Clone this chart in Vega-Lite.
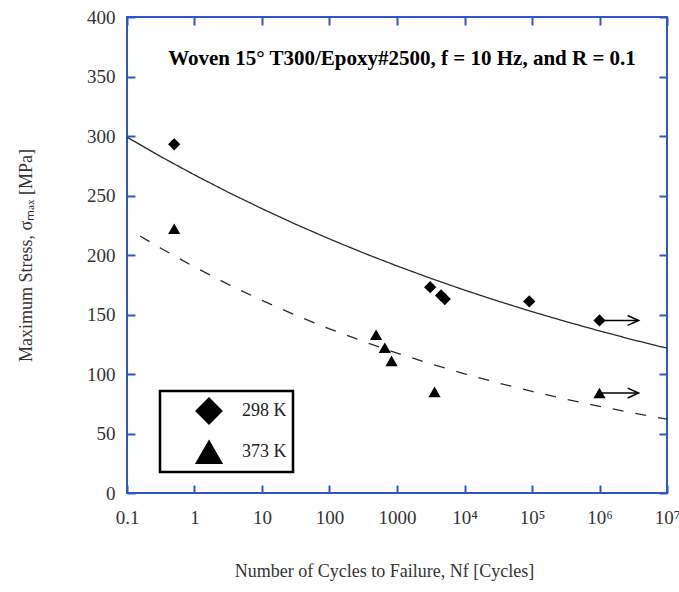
{
  "$schema": "https://vega.github.io/schema/vega-lite/v6.json",
  "width": 540,
  "height": 476,
  "autosize": {"type": "none"},
  "padding": {"left": 127, "top": 17, "right": 12, "bottom": 99},
  "background": "white",
  "config": {
    "view": {"stroke": "#2e56c6", "strokeWidth": 2},
    "font": "Liberation Serif",
    "legend": {"strokeWidth": 2.5}
  },
  "title": {
    "text": "Woven 15° T300/Epoxy#2500, f = 10 Hz, and R = 0.1",
    "font": "Liberation Serif",
    "fontSize": 21,
    "fontWeight": "bold",
    "color": "#000000",
    "anchor": "middle",
    "orient": "top",
    "offset": -78,
    "baseline": "alphabetic",
    "dx": 5
  },
  "datasets": {
    "points": [
      {"series": "298 K", "N": 0.5, "stress": 293},
      {"series": "298 K", "N": 3100, "stress": 173},
      {"series": "298 K", "N": 4500, "stress": 166},
      {"series": "298 K", "N": 5100, "stress": 163},
      {"series": "298 K", "N": 91000, "stress": 161},
      {"series": "298 K", "N": 1000000, "stress": 145},
      {"series": "373 K", "N": 0.5, "stress": 222},
      {"series": "373 K", "N": 490, "stress": 133},
      {"series": "373 K", "N": 660, "stress": 122},
      {"series": "373 K", "N": 830, "stress": 111},
      {"series": "373 K", "N": 3600, "stress": 85},
      {"series": "373 K", "N": 1000000, "stress": 84}
    ],
    "arrows": [
      {"series": "298 K", "from": 1000000, "to": 3800000, "stress": 145},
      {"series": "373 K", "from": 1000000, "to": 3800000, "stress": 84}
    ],
    "curves": [
      {"curve": "298 K fit", "N": 0.1, "stress": 299},
      {"curve": "298 K fit", "N": 0.316, "stress": 282.7},
      {"curve": "298 K fit", "N": 1, "stress": 267.3},
      {"curve": "298 K fit", "N": 3.16, "stress": 252.7},
      {"curve": "298 K fit", "N": 10, "stress": 238.9},
      {"curve": "298 K fit", "N": 31.6, "stress": 225.8},
      {"curve": "298 K fit", "N": 100, "stress": 213.5},
      {"curve": "298 K fit", "N": 316, "stress": 201.8},
      {"curve": "298 K fit", "N": 1000, "stress": 190.8},
      {"curve": "298 K fit", "N": 3160, "stress": 180.4},
      {"curve": "298 K fit", "N": 10000, "stress": 170.5},
      {"curve": "298 K fit", "N": 31600, "stress": 161.2},
      {"curve": "298 K fit", "N": 100000, "stress": 152.4},
      {"curve": "298 K fit", "N": 316000, "stress": 144.1},
      {"curve": "298 K fit", "N": 1000000, "stress": 136.2},
      {"curve": "298 K fit", "N": 3160000, "stress": 128.7},
      {"curve": "298 K fit", "N": 10000000, "stress": 121.7},
      {"curve": "373 K fit", "N": 0.156, "stress": 216},
      {"curve": "373 K fit", "N": 0.316, "stress": 205.7},
      {"curve": "373 K fit", "N": 1, "stress": 189.9},
      {"curve": "373 K fit", "N": 3.16, "stress": 175.3},
      {"curve": "373 K fit", "N": 10, "stress": 161.8},
      {"curve": "373 K fit", "N": 31.6, "stress": 149.4},
      {"curve": "373 K fit", "N": 100, "stress": 137.9},
      {"curve": "373 K fit", "N": 316, "stress": 127.4},
      {"curve": "373 K fit", "N": 1000, "stress": 117.6},
      {"curve": "373 K fit", "N": 3160, "stress": 108.5},
      {"curve": "373 K fit", "N": 10000, "stress": 100.2},
      {"curve": "373 K fit", "N": 31600, "stress": 92.5},
      {"curve": "373 K fit", "N": 100000, "stress": 85.4},
      {"curve": "373 K fit", "N": 316000, "stress": 78.8},
      {"curve": "373 K fit", "N": 1000000, "stress": 72.8},
      {"curve": "373 K fit", "N": 3160000, "stress": 67.2},
      {"curve": "373 K fit", "N": 10000000, "stress": 62.0}
    ]
  },
  "layer": [
    {
      "data": {"name": "curves"},
      "mark": {"type": "line", "color": "#2a2a2a", "strokeWidth": 1.3},
      "encoding": {
        "x": {
          "field": "N",
          "type": "quantitative",
          "scale": {"type": "log", "domain": [0.1, 10000000]},
          "axis": {
            "orient": "bottom",
            "values": [0.1, 1, 10, 100, 1000, 10000, 100000, 1000000, 10000000],
            "labelExpr": "datum.value < 0.5 ? '0.1' : datum.value < 5 ? '1' : datum.value < 50 ? '10' : datum.value < 500 ? '100' : datum.value < 5000 ? '1000' : datum.value < 50000 ? '10⁴' : datum.value < 500000 ? '10⁵' : datum.value < 5000000 ? '10⁶' : '10⁷'",
            "labelFlush": false,
            "labelOverlap": false,
            "labelBound": false,
            "domain": false,
            "grid": false,
            "ticks": true,
            "tickSize": -8,
            "tickWidth": 2,
            "tickColor": "#2e56c6",
            "labelFont": "Liberation Serif",
            "labelFontSize": 19,
            "labelColor": "#333333",
            "labelPadding": 23,
            "title": "Number of Cycles to Failure, Nf [Cycles]",
            "titleFont": "Liberation Serif",
            "titleFontSize": 18,
            "titleFontWeight": "normal",
            "titleColor": "#333333",
            "titlePadding": 35,
            "titleX": 257
          }
        },
        "y": {
          "field": "stress",
          "type": "quantitative",
          "scale": {"domain": [0, 400]},
          "axis": {
            "orient": "left",
            "values": [0, 50, 100, 150, 200, 250, 300, 350, 400],
            "domain": false,
            "grid": false,
            "tickSize": -8,
            "tickWidth": 2,
            "tickColor": "#2e56c6",
            "labelFont": "Liberation Serif",
            "labelFontSize": 19,
            "labelColor": "#333333",
            "labelPadding": 20,
            "labelFlush": false,
            "labelBound": false,
            "title": "Maximum Stress, σₘₐₓ [MPa]",
            "titleFont": "Liberation Serif",
            "titleFontSize": 18,
            "titleFontWeight": "normal",
            "titleColor": "#333333",
            "titlePadding": 51
          }
        },
        "strokeDash": {
          "field": "curve",
          "type": "nominal",
          "scale": {"domain": ["298 K fit", "373 K fit"], "range": [[1, 0], [11, 12]]},
          "legend": null
        }
      }
    },
    {
      "data": {"name": "points"},
      "mark": {"type": "point", "filled": true, "size": 150, "opacity": 1},
      "encoding": {
        "x": {
          "field": "N",
          "type": "quantitative",
          "axis": {
            "orient": "top",
            "values": [0.1, 1, 10, 100, 1000, 10000, 100000, 1000000, 10000000],
            "labels": false,
            "domain": false,
            "grid": false,
            "tickSize": -8,
            "tickWidth": 2,
            "tickColor": "#2e56c6",
            "title": null
          }
        },
        "y": {
          "field": "stress",
          "type": "quantitative",
          "axis": {
            "orient": "right",
            "values": [0, 50, 100, 150, 200, 250, 300, 350, 400],
            "labels": false,
            "domain": false,
            "grid": false,
            "tickSize": -8,
            "tickWidth": 2,
            "tickColor": "#2e56c6",
            "title": null
          }
        },
        "shape": {
          "field": "series",
          "type": "nominal",
          "scale": {"domain": ["298 K", "373 K"], "range": ["diamond", "triangle-up"]},
          "legend": null
        },
        "color": {
          "field": "series",
          "type": "nominal",
          "scale": {"domain": ["298 K", "373 K"], "range": ["#000000", "#000000"]},
          "legend": {
            "orient": "none",
            "legendX": 33,
            "legendY": 374,
            "title": null,
            "padding": 6,
            "rowPadding": 11,
            "strokeColor": "black",
            "fillColor": "white",
            "symbolSize": 676,
            "symbolOffset": 29,
            "labelOffset": 19,
            "labelFont": "Liberation Serif",
            "labelFontSize": 18,
            "labelColor": "#222222",
            "symbolStrokeWidth": 1.3,
            "symbolStrokeColor": "black",
            "symbolFillColor": "black",
            "encode": {
              "symbols": {
                "shape": {
                  "condition": {"test": "datum.value === '298 K'", "value": "M-1.96,0H-0.4M0,-0.42L0.42,0L0,0.42L-0.42,0ZM0.4,0H1.96"},
                  "value": "M-1.87,0H-1.02M-0.45,0.36L0,-0.36L0.45,0.36ZM0.13,0H1.03"
                },
                "size": {"value": 676},
                "stroke": {"value": "black"},
                "strokeWidth": {"value": 1.3},
                "opacity": {"value": 1}
              }
            }
          }
        }
      }
    },
    {
      "data": {"name": "arrows"},
      "mark": {"type": "rule", "color": "black", "strokeWidth": 1.5},
      "encoding": {
        "x": {"field": "from", "type": "quantitative", "axis": null},
        "x2": {"field": "to"},
        "y": {"field": "stress", "type": "quantitative", "axis": null}
      }
    },
    {
      "data": {"name": "arrows"},
      "mark": {"type": "point", "filled": false, "shape": "M-1,-0.45L0,0L-1,0.45", "size": 484, "color": "black", "strokeWidth": 1.5, "opacity": 1},
      "encoding": {
        "x": {"field": "to", "type": "quantitative", "axis": null},
        "y": {"field": "stress", "type": "quantitative", "axis": null}
      }
    }
  ],
  "resolve": {"axis": {"x": "independent", "y": "independent"}}
}
